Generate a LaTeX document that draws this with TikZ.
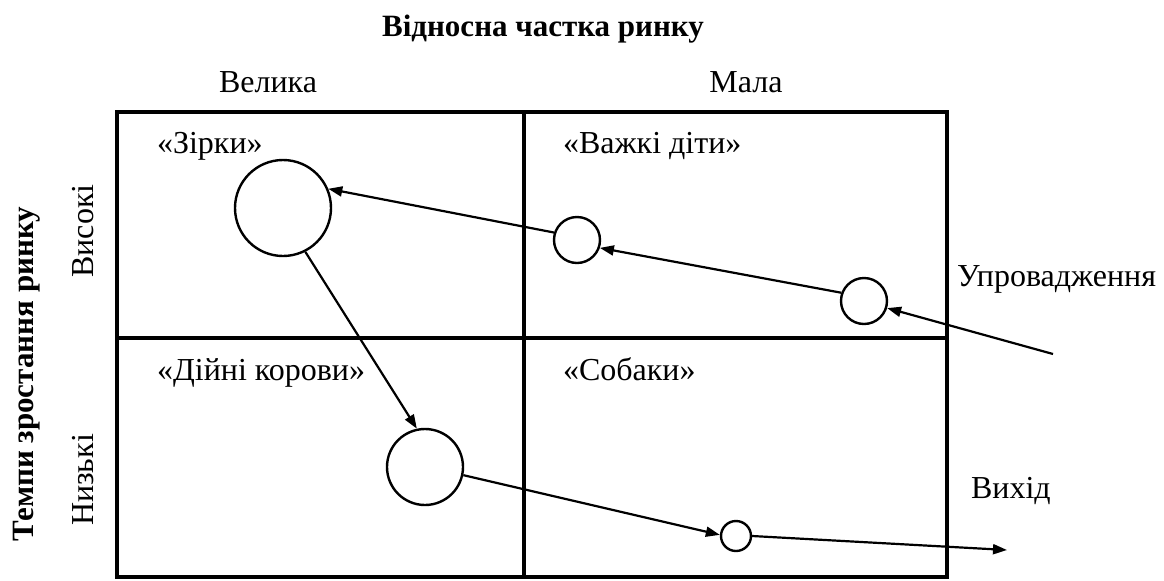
\documentclass[tikz,border=0pt]{standalone}
\usepackage{fontspec}
\setmainfont{Liberation Serif}
\newfontfamily\timesfont{Liberation Serif}
\usetikzlibrary{arrows.meta}

\begin{document}
\begin{tikzpicture}[x=0.5pt, y=-0.5pt,
    every node/.style={font=\timesfont\fontsize{16}{19}\selectfont},
    unit/.style={draw, circle, line width=1.2pt, inner sep=0pt},
    flow/.style={-{Triangle[length=7pt, width=5pt]}, line width=1.1pt}]
    \useasboundingbox (0,0) rectangle (1164,580);

    % Matrix
    \draw[line width=2pt] (117,112) rectangle (947,577);
    \draw[line width=2pt] (524,112) -- (524,577);
    \draw[line width=2pt] (117,338) -- (947,338);

    % Axes
    \node (share) at (543,29) [font=\timesfont\fontsize{15.5}{18}\selectfont\bfseries] {Відносна частка ринку};
    \node (big) at (268,82) {Велика};
    \node (small) at (746,82) {Мала};
    \node (growth) at (27,374) [rotate=90, font=\timesfont\fontsize{15.5}{18}\selectfont\bfseries] {Темпи зростання ринку};
    \node (high) at (83,231) [rotate=90] {Високі};
    \node (low) at (83,480) [rotate=90] {Низькі};

    % Quadrants
    \node (q_star) at (150,153) [anchor=base west] {«Зірки»};
    \node (q_child) at (556,153) [anchor=base west] {«Важкі діти»};
    \node (q_cow) at (150,380) [anchor=base west] {«Дійні корови»};
    \node (q_dog) at (556,380) [anchor=base west] {«Собаки»};

    % Stages
    \node (intro) at (950,286) [anchor=base west] {Упровадження};
    \node (out) at (964,498) [anchor=base west] {Вихід};

    % Products
    \node (star) at (283,208) [unit, minimum size=48pt] {};
    \node (pc1) at (577,240) [unit, minimum size=23pt] {};
    \node (pc2) at (864,301) [unit, minimum size=23pt] {};
    \node (cow) at (425,467) [unit, minimum size=38pt] {};
    \node (dog) at (736,536) [unit, minimum size=15pt] {};
    \coordinate (entry) at (1053,354);
    \coordinate (exit) at (1007,550);

    % Life cycle
    \draw[flow] (entry) -- (pc2.-17);
    \draw[flow] (pc2.160) -- (pc1.-19);
    \draw[flow] (pc1.162) -- (star.23);
    \draw[flow] (star.-63) -- (cow.102);
    \draw[flow] (cow.-12) -- (dog.176);
    \draw[flow] (dog.0) -- (exit);
\end{tikzpicture}
\end{document}
